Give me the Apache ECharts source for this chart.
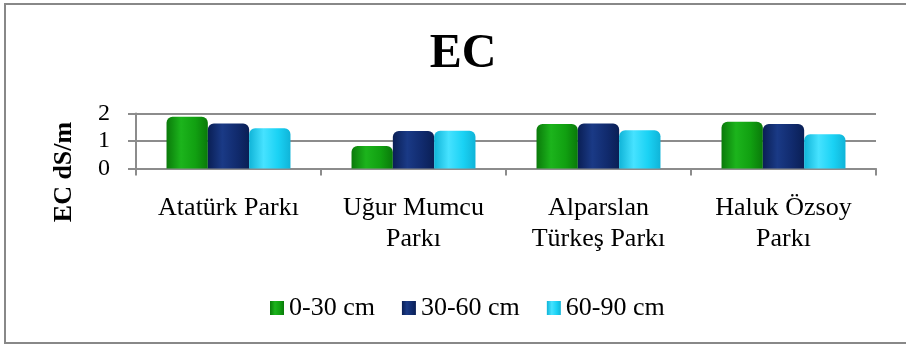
<!DOCTYPE html>
<html>
<head>
<meta charset="utf-8">
<script src="https://cdn.jsdelivr.net/npm/echarts@6/dist/echarts.min.js"></script>
<style>
  html, body { margin: 0; padding: 0; background: #fff; }
  #chart { width: 906px; height: 344px; }
</style>
</head>
<body>
<div id="chart"></div>
<script>
// Parks and soil depths
const categories = ['Atatürk Parkı', 'Uğur Mumcu\nParkı', 'Alparslan\nTürkeş Parkı', 'Haluk Özsoy\nParkı'];
const depths = ['0-30 cm', '30-60 cm', '60-90 cm'];

// EC (dS/m) per park, one array per depth
const ec0to30 = [1.88, 0.82, 1.62, 1.70];
const ec30to60 = [1.64, 1.36, 1.64, 1.62];
const ec60to90 = [1.46, 1.37, 1.39, 1.25];

const yTicks = [0, 1, 2];

const FONT = '"Liberation Serif", "Times New Roman", serif';

function cylinder(dark, mid, light) {
  return new echarts.graphic.LinearGradient(0, 0, 1, 0, [
    { offset: 0, color: dark },
    { offset: 0.35, color: light },
    { offset: 0.7, color: mid },
    { offset: 1, color: dark }
  ]);
}

const palette = [
  cylinder('#0a7a0a', '#11a011', '#1cb41c'),
  cylinder('#0a1f55', '#112b6e', '#1a3a86'),
  cylinder('#10b4d8', '#1ad2f4', '#46e2ff')
];

const seriesValues = [ec0to30, ec30to60, ec60to90];

const chart = echarts.init(document.getElementById('chart'), null, { renderer: 'canvas' });

chart.setOption({
  animation: false,
  backgroundColor: '#fff',
  title: {
    text: 'EC',
    left: 458,
    textAlign: 'center',
    top: 26,
    textStyle: { fontFamily: FONT, fontSize: 48, fontWeight: 'bold', color: '#000' }
  },
  graphic: [
    {
      type: 'rect',
      shape: { x: 5, y: 4, width: 960, height: 339 },
      style: { fill: 'none', stroke: '#888', lineWidth: 2 },
      silent: true
    },
    {
      type: 'text',
      x: 64,
      y: 172,
      rotation: Math.PI / 2,
      style: {
        text: 'EC dS/m',
        font: 'bold 26px ' + FONT,
        fill: '#000',
        textAlign: 'center',
        textVerticalAlign: 'middle'
      }
    }
  ],
  legend: {
    left: 265,
    top: 290,
    itemWidth: 14,
    itemHeight: 14,
    itemGap: 27,
    icon: 'rect',
    textStyle: { fontFamily: FONT, fontSize: 26, color: '#000', padding: [0, 0, 0, 0] },
    data: depths
  },
  grid: { left: 136, right: 30, top: 113.5, bottom: 175.5 },
  xAxis: {
    type: 'category',
    data: categories,
    axisLine: { lineStyle: { color: '#8c8c8c', width: 2 } },
    axisTick: { show: true, length: 7, alignWithLabel: false, lineStyle: { color: '#8c8c8c', width: 2 } },
    axisLabel: {
      interval: 0,
      margin: 24,
      fontFamily: FONT,
      fontSize: 26,
      lineHeight: 31,
      color: '#000'
    }
  },
  yAxis: {
    type: 'value',
    min: yTicks[0],
    max: yTicks[yTicks.length - 1],
    interval: 1,
    axisLine: { show: true, lineStyle: { color: '#8c8c8c', width: 2 } },
    axisTick: { show: true, length: 8, lineStyle: { color: '#8c8c8c', width: 2 } },
    splitLine: { lineStyle: { color: '#8c8c8c', width: 2 } },
    axisLabel: { margin: 26, fontFamily: FONT, fontSize: 24, color: '#000' }
  },
  series: depths.map((name, i) => ({
    name: name,
    type: 'bar',
    data: seriesValues[i],
    barGap: '0%',
    barCategoryGap: '33%',
    itemStyle: { color: palette[i], borderRadius: [6, 6, 0, 0] }
  }))
});
</script>
</body>
</html>
